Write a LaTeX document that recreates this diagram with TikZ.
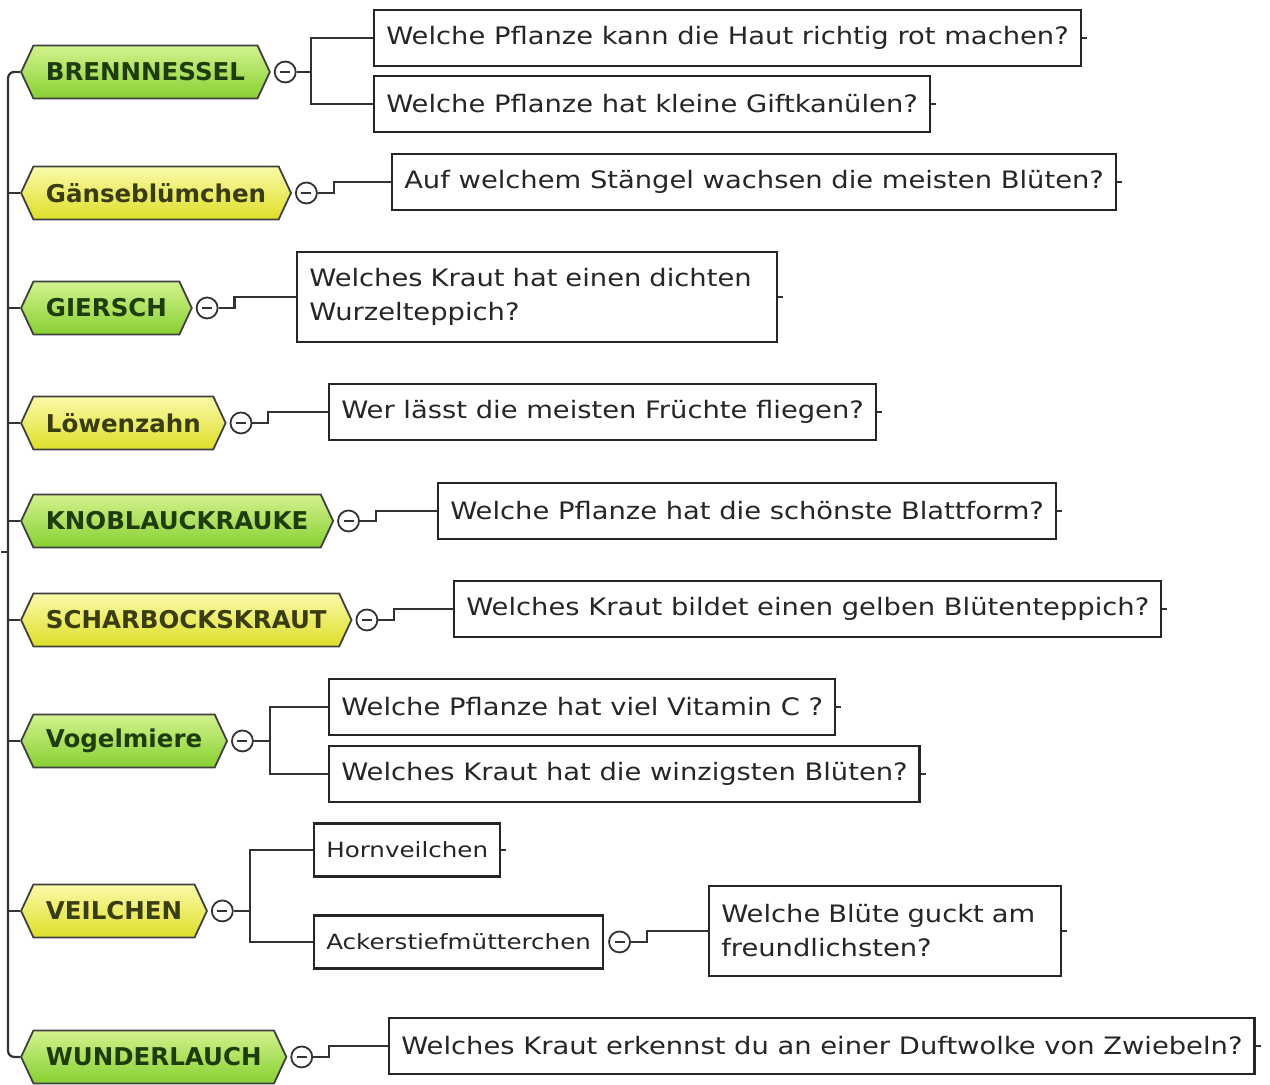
\documentclass[tikz,border=0pt]{standalone}
\usepackage{fontspec}
\usetikzlibrary{shapes.symbols, positioning}
\newfontfamily\qfont{DejaVu Sans}[FakeStretch=1.14]
\newfontfamily\leaffont{DejaVu Sans}[FakeStretch=1.17]
\newfontfamily\hexfont{DejaVu Sans}
\definecolor{greenTop}{HTML}{D2F28E}
\definecolor{greenBot}{HTML}{88D032}
\definecolor{yellowTop}{HTML}{FAFAAA}
\definecolor{yellowBot}{HTML}{DEDE28}
\definecolor{greenText}{HTML}{1F3D0C}
\definecolor{yellowText}{HTML}{3A3D10}
\tikzset{
  hexbase/.style={signal, signal to=west and east, signal pointer angle=130,
    draw=black!75, line width=1.8pt, minimum height=53pt, inner xsep=12.5pt,
    anchor=west, font=\hexfont\bfseries\fontsize{24.5}{28}\selectfont},
  hexgreen/.style={hexbase, top color=greenTop, bottom color=greenBot, text=greenText},
  hexyellow/.style={hexbase, top color=yellowTop, bottom color=yellowBot, text=yellowText},
  question/.style={draw=black!85, line width=2.4pt, fill=white, minimum height=56pt,
    inner xsep=12pt, anchor=west, align=left, text=black!85,
    font=\qfont\fontsize{24}{34}\selectfont},
  leaf/.style={question, minimum height=53pt, font=\leaffont\fontsize{21}{28}\selectfont},
  collapse/.style={circle, draw=black!80, line width=1.8pt, minimum size=21pt,
    inner sep=0pt, fill=white,
    path picture={\draw[line width=1.8pt] ([xshift=-5pt]path picture bounding box.center)
      -- ([xshift=5pt]path picture bounding box.center);}},
  link/.style={draw=black!80, line width=2.2pt},
}
\begin{document}
\begin{tikzpicture}[x=1pt, y=-1pt]
  \fill[white] (0,0) rectangle (1270,1083);
  \coordinate (spine) at (8,0);
  \coordinate (root) at (1,552);

  % plants
  \node[hexgreen]  (brennnessel) at (20,72)   {BRENNNESSEL};
  \node[hexyellow] (gaense)      at (20,193)  {Gänseblümchen};
  \node[hexgreen]  (giersch)     at (20,308)  {GIERSCH};
  \node[hexyellow] (loewenzahn)  at (20,423)  {Löwenzahn};
  \node[hexgreen]  (knoblauch)   at (20,521)  {KNOBLAUCKRAUKE};
  \node[hexyellow] (scharbock)   at (20,620)  {SCHARBOCKSKRAUT};
  \node[hexgreen]  (vogelmiere)  at (20,741)  {Vogelmiere};
  \node[hexyellow] (veilchen)    at (20,911)  {VEILCHEN};
  \node[hexgreen]  (wunderlauch) at (20,1057) {WUNDERLAUCH};

  % collapse buttons
  \foreach \n in {brennnessel, gaense, giersch, loewenzahn, knoblauch,
                  scharbock, vogelmiere, veilchen, wunderlauch}
    \node[collapse, right=3pt of \n] (\n-c) {};

  % questions
  \node[question] (q-brenn-1) at (373,38)  {Welche Pflanze kann die Haut richtig rot machen?};
  \node[question] (q-brenn-2) at (373,104) {Welche Pflanze hat kleine Giftkanülen?};
  \node[question] (q-gaense)  at (391,182) {Auf welchem Stängel wachsen die meisten Blüten?};
  \node[question, minimum height=90pt, text width=456pt] (q-giersch) at (296,297)
    {Welches Kraut hat einen dichten\\Wurzelteppich?};
  \node[question] (q-loewen)  at (328,412) {Wer lässt die meisten Früchte fliegen?};
  \node[question] (q-knob)    at (437,511) {Welche Pflanze hat die schönste Blattform?};
  \node[question] (q-scharb)  at (453,609) {Welches Kraut bildet einen gelben Blütenteppich?};
  \node[question] (q-vogel-1) at (328,707) {Welche Pflanze hat viel Vitamin C ?};
  \node[question] (q-vogel-2) at (328,774) {Welches Kraut hat die winzigsten Blüten?};
  \node[leaf] (horn)  at (313,850) {Hornveilchen};
  \node[leaf] (acker) at (313,942) {Ackerstiefmütterchen};
  \node[collapse, right=4pt of acker] (acker-c) {};
  \node[question, minimum height=90pt, text width=328pt] (q-acker) at (708,931)
    {Welche Blüte guckt am\\freundlichsten?};
  \node[question] (q-wunder)  at (388,1046) {Welches Kraut erkennst du an einer Duftwolke von Zwiebeln?};

  % spine
  \draw[link, rounded corners=6pt] (brennnessel.west) -- (spine |- brennnessel.west)
    -- (spine |- wunderlauch.west) -- (wunderlauch.west);
  \foreach \n in {gaense, giersch, loewenzahn, knoblauch, scharbock, vogelmiere, veilchen}
    \draw[link] (spine |- \n.west) -- (\n.west);
  \draw[link] (root) -- (spine |- root);

  % branches with two children
  \draw[link] (brennnessel-c.east) -- ++(14,0) coordinate (brennnessel-j);
  \draw[link] (q-brenn-1.west) -| (brennnessel-j) |- (q-brenn-2.west);
  \draw[link] (vogelmiere-c.east) -- ++(16,0) coordinate (vogelmiere-j);
  \draw[link] (q-vogel-1.west) -| (vogelmiere-j) |- (q-vogel-2.west);
  \draw[link] (veilchen-c.east) -- ++(16,0) coordinate (veilchen-j);
  \draw[link] (horn.west) -| (veilchen-j) |- (acker.west);

  % branches with one child
  \draw[link] (gaense-c.east) -- ++(16,0) |- (q-gaense.west);
  \draw[link] (giersch-c.east) -- ++(16,0) |- (q-giersch.west);
  \draw[link] (loewenzahn-c.east) -- ++(16,0) |- (q-loewen.west);
  \draw[link] (knoblauch-c.east) -- ++(16,0) |- (q-knob.west);
  \draw[link] (scharbock-c.east) -- ++(16,0) |- (q-scharb.west);
  \draw[link] (acker-c.east) -- ++(16,0) |- (q-acker.west);
  \draw[link] (wunderlauch-c.east) -- ++(16,0) |- (q-wunder.west);

  % stubs
  \foreach \b in {q-brenn-1, q-brenn-2, q-gaense, q-giersch, q-loewen, q-knob,
                  q-scharb, q-vogel-1, q-vogel-2, horn, q-acker, q-wunder}
    \draw[link, line width=1.4pt] (\b.east) -- ++(5,0);
\end{tikzpicture}
\end{document}
